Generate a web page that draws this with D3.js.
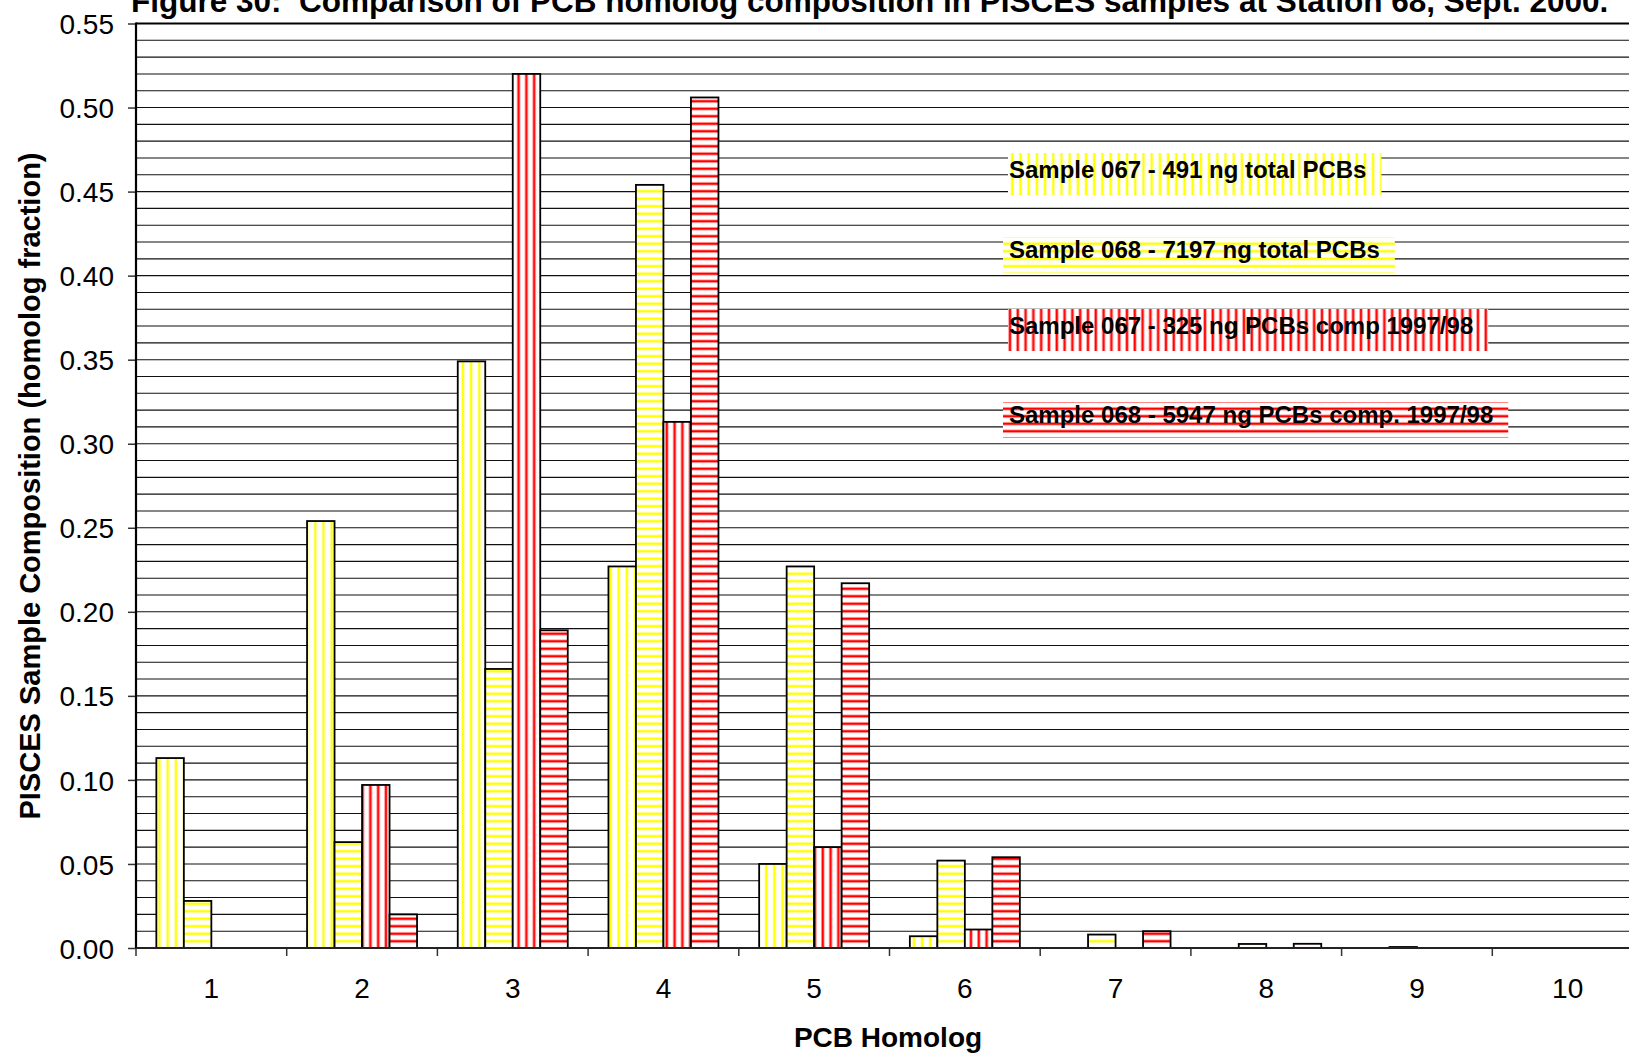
<!DOCTYPE html>
<html>
<head>
<meta charset="utf-8">
<script src="https://cdn.jsdelivr.net/npm/d3@7"></script>
<style>
  body { margin: 0; background: #fff; }
  svg { display: block; }
  text { font-family: "Liberation Sans", Arial, Helvetica, sans-serif; fill: #000; }
</style>
</head>
<body>
<svg id="chart" width="1629" height="1054"></svg>
<script>
// ---- data ----
const homologs = ["1", "2", "3", "4", "5", "6", "7", "8", "9", "10"];
const seriesNames = [
  "Sample 067 - 491 ng total PCBs",
  "Sample 068 - 7197 ng total PCBs",
  "Sample 067 - 325 ng PCBs comp 1997/98",
  "Sample 068 - 5947 ng PCBs comp. 1997/98"
];
const sample067Total = [0.113, 0.254, 0.349, 0.227, 0.050, 0.007, 0.000, 0.000, 0.000, 0.000];
const sample068Total = [0.028, 0.063, 0.166, 0.454, 0.227, 0.052, 0.008, 0.0024, 0.0006, 0.000];
const sample067Comp  = [0.000, 0.097, 0.520, 0.313, 0.060, 0.011, 0.000, 0.000, 0.000, 0.000];
const sample068Comp  = [0.000, 0.020, 0.189, 0.506, 0.217, 0.054, 0.010, 0.0025, 0.000, 0.000];
const yTickValues = [0, 0.05, 0.10, 0.15, 0.20, 0.25, 0.30, 0.35, 0.40, 0.45, 0.50, 0.55];
const titleText = "Figure 30:  Comparison of PCB homolog composition in PISCES samples at Station 68, Sept. 2000.";
const yTitleText = "PISCES Sample Composition (homolog fraction)";
const xTitleText = "PCB Homolog";

const seriesValues = [sample067Total, sample068Total, sample067Comp, sample068Comp];
// pattern id for each series: colour + stripe direction
const seriesPattern = ["yellowV", "yellowH", "redV", "redH"];

// ---- layout ----
const svg = d3.select("#chart");
const plotLeft = 136, plotTop = 23.5, plotBottom = 948;
const catStep = 150.7;
const plotRight = plotLeft + catStep * homologs.length;

const x = d3.scaleBand().domain(homologs).range([plotLeft, plotRight]).padding(0);
const xInner = d3.scaleBand().domain(d3.range(4)).range([0, x.bandwidth()])
  .paddingInner(0).paddingOuter(0.74);
const y = d3.scaleLinear().domain([0, 0.55]).range([plotBottom, plotTop]);

// ---- stripe patterns ----
const defs = svg.append("defs");
function stripes(id, solid, pale, vertical, period) {
  const p = defs.append("pattern").attr("id", id).attr("patternUnits", "userSpaceOnUse")
    .attr("width", vertical ? period : 10).attr("height", vertical ? 10 : period);
  p.append("rect").attr("width", vertical ? period : 10).attr("height", vertical ? 10 : period).attr("fill", "#fff");
  const parts = [[2, 0.8, pale], [2.8, 2, solid], [4.8, 0.8, pale]];
  parts.forEach(([o, w, c]) => {
    if (vertical) p.append("rect").attr("x", o).attr("y", 0).attr("width", w).attr("height", 10).attr("fill", c);
    else p.append("rect").attr("x", 0).attr("y", o).attr("width", 10).attr("height", w).attr("fill", c);
  });
}
stripes("yellowV", "#ffff00", "#ffff9a", true, 8.2);
stripes("yellowH", "#ffff00", "#ffff9a", false, 7.5);
stripes("redV", "#ff0000", "#ff9a9a", true, 7.8);
stripes("redH", "#ff0000", "#ff9a9a", false, 7.5);

// ---- gridlines every 0.01 ----
svg.append("g").selectAll("line").data(y.ticks(55)).join("line")
  .attr("x1", plotLeft).attr("x2", plotRight)
  .attr("y1", d => y(d)).attr("y2", d => y(d))
  .attr("stroke", "#111").attr("stroke-width", 1.1);
// top frame line
svg.append("line").attr("x1", plotLeft).attr("x2", plotRight).attr("y1", y(0.55)).attr("y2", y(0.55))
  .attr("stroke", "#000").attr("stroke-width", 2);

// ---- bars ----
const barData = [];
homologs.forEach((h, i) => {
  seriesValues.forEach((vals, s) => barData.push({ h, s, v: vals[i] }));
});
svg.append("g").selectAll("rect").data(barData.filter(d => d.v > 0)).join("rect")
  .attr("x", d => x(d.h) + xInner(d.s))
  .attr("width", xInner.bandwidth())
  .attr("y", d => y(d.v))
  .attr("height", d => y(0) - y(d.v))
  .attr("fill", d => `url(#${seriesPattern[d.s]})`)
  .attr("stroke", "#000").attr("stroke-width", 1.8);

// ---- axes ----
const yAxis = svg.append("g").attr("transform", `translate(${plotLeft},0)`)
  .call(d3.axisLeft(y).tickValues(yTickValues).tickFormat(d3.format(".2f")).tickSize(8).tickPadding(14));
yAxis.select(".domain").remove();
yAxis.selectAll(".tick line").attr("stroke", "#333").attr("stroke-width", 1.5);
yAxis.selectAll(".tick text").style("font-size", "28px").attr("dy", "0.36em");
svg.append("line").attr("x1", plotLeft).attr("x2", plotLeft).attr("y1", plotTop - 1).attr("y2", plotBottom)
  .attr("stroke", "#000").attr("stroke-width", 2.2);

const xAxis = svg.append("g").attr("transform", `translate(0,${plotBottom})`)
  .call(d3.axisBottom(x).tickSize(0).tickPadding(30));
xAxis.select(".domain").remove();
xAxis.selectAll(".tick text").style("font-size", "28px");
// category boundary ticks
svg.append("g").selectAll("line").data(homologs.map(h => x(h)).concat([plotRight])).join("line")
  .attr("x1", d => d).attr("x2", d => d).attr("y1", plotBottom).attr("y2", plotBottom + 8)
  .attr("stroke", "#333").attr("stroke-width", 1.5);
svg.append("line").attr("x1", plotLeft).attr("x2", plotRight).attr("y1", plotBottom).attr("y2", plotBottom)
  .attr("stroke", "#222").attr("stroke-width", 2.2);

// ---- titles ----
svg.append("text").attr("x", 131).attr("y", 12)
  .style("white-space", "pre")
  .style("font-size", "31.5px").style("font-weight", "bold").text(titleText);
svg.append("text").attr("transform", "translate(40,486) rotate(-90)")
  .attr("text-anchor", "middle").style("font-size", "29px").style("font-weight", "bold").text(yTitleText);
svg.append("text").attr("x", 888).attr("y", 1047).attr("text-anchor", "middle")
  .style("font-size", "28px").style("font-weight", "bold").text(xTitleText);

// ---- legend: text over a striped swatch background ----
const legendX = 1009;
const legendBaselines = [178, 258, 334, 423];
const legend = svg.append("g");
seriesNames.forEach((name, s) => {
  const g = legend.append("g");
  const bg = g.append("rect");
  const t = g.append("text").attr("x", legendX).attr("y", legendBaselines[s])
    .style("font-size", "24px").style("font-weight", "bold").text(name);
  const w = t.node().getComputedTextLength();
  const vertical = seriesPattern[s].endsWith("V");
  const padL = vertical ? 1 : 6;
  const up = vertical ? 25 : 21, down = vertical ? 17 : 15;
  bg.attr("x", legendX - padL).attr("y", legendBaselines[s] - up)
    .attr("width", w + padL + 15).attr("height", up + down)
    .attr("fill", `url(#${seriesPattern[s]})`);
});
</script>
</body>
</html>
